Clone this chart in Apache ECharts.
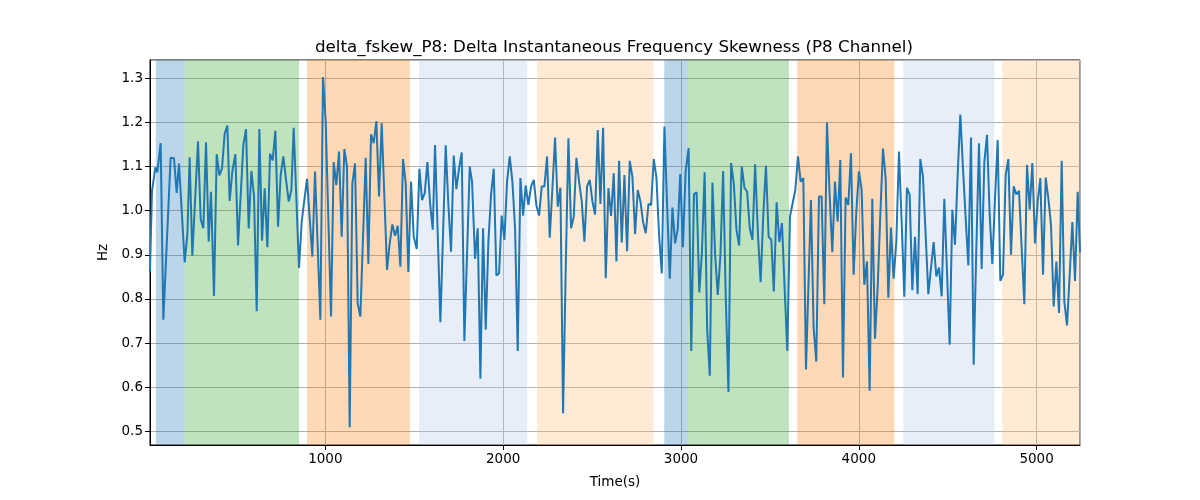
<!DOCTYPE html>
<html>
<head>
<meta charset="utf-8">
<script src="https://cdn.jsdelivr.net/npm/echarts@6/dist/echarts.min.js"></script>
<style>html,body{margin:0;padding:0;background:#fff}#c{width:1200px;height:500px}</style>
</head>
<body>
<div id="c"></div>
<script>
const times = [14,25,44,55,74,89,130,149,164,177,209,224,237,252,284,299,314,329,344,357,374,389,404,419,434,449,462,477,494,509,539,554,569,584,599,614,629,644,659,674,689,704,719,734,749,
764,779,794,809,822,852,867,897,927,942,972,987,1002,1032,1047,1062,1077,1092,1107,1122,1137,1152,1167,1182,1197,1227,1242,1257,1272,1287,1302,1317,1347,1362,1377,1392,1407,1422,1437,1452,1467,1482,1497,
1514,1529,1544,1559,1574,1589,1604,1617,1647,1677,1692,1707,1722,1737,1752,1767,1782,1812,1825,1842,1857,1872,1887,1902,1917,1932,1947,1962,1977,1992,2007,2022,2037,2052,2067,2082,2097,2112,2127,2142,2157,2172,2187,2202,2217,2232,2247,
2262,2277,2292,2307,2322,2337,2352,2367,2382,2397,2412,2427,2442,2457,2472,2487,2502,2517,2532,2547,2562,2577,2592,2607,2622,2637,2652,2667,2682,2697,2712,2727,2742,2757,2772,2787,2802,2817,2832,2847,2862,2877,2892,2907,2922,2937,2952,2967,2982,
2996,3011,3026,3043,3058,3073,3088,3103,3118,3133,3147,3162,3177,3192,3207,3222,3237,3252,3267,3282,3297,3312,3327,3342,3357,3372,3387,3402,3417,3433,3448,3463,3478,3493,3508,3522,3538,3553,3568,3583,3598,3613,3628,3643,3658,3673,3688,3703,
3731,3746,3761,3776,3791,3806,3821,3836,3851,3866,3881,3896,3911,3926,3941,3956,3971,3986,4001,4016,4031,4046,4061,4076,4091,4106,4121,4136,4151,4166,4181,4196,4211,4226,4241,4256,4271,4286,4301,4316,4331,4346,4361,4376,4391,4406,4421,4436,4451,4466,
4481,4496,4511,4526,4541,4556,4571,4586,4601,4616,4631,4646,4661,4676,4691,4706,4721,4736,4751,4766,4781,4796,4811,4826,4841,4856,4871,4886,4901,4916,4931,4946,4961,4976,4991,5006,5021,5036,5051,5066,5081,5096,5111,5126,5141,5156,5171,5186,5201,5216,5231,5244];

const values = [0.862,1.043,1.098,1.087,1.153,0.753,1.120,1.119,1.040,1.107,0.883,0.945,1.121,0.898,1.157,0.981,0.960,1.155,0.930,1.043,0.807,1.128,1.080,1.096,1.175,1.193,1.022,1.089,1.128,0.921,1.149,1.185,0.960,1.090,1.034,0.772,1.185,0.932,1.051,0.917,1.129,1.114,1.181,0.964,1.081,
1.123,1.070,1.021,1.047,1.188,0.870,0.975,1.072,0.896,1.089,0.753,1.303,1.202,0.760,1.110,1.058,1.134,0.941,1.140,1.100,0.509,1.062,1.107,0.790,0.760,1.120,0.879,1.173,1.153,1.203,1.032,1.198,0.866,0.926,0.969,0.943,0.966,0.873,1.117,1.062,0.861,1.066,0.941,
0.913,1.095,1.024,1.040,1.110,1.017,0.957,1.149,0.747,1.148,1.013,0.907,1.125,1.049,1.096,1.132,0.705,1.100,1.066,0.891,0.960,0.619,0.960,0.730,0.930,1.036,1.095,0.853,0.858,0.989,0.934,1.066,1.123,1.066,0.960,0.682,1.074,0.989,1.057,1.013,1.055,1.070,1.012,0.989,1.055,1.055,1.123,
0.939,1.051,1.166,1.009,1.052,0.541,0.870,1.164,0.960,0.987,1.120,1.066,1.021,0.930,1.055,1.070,1.021,0.991,1.183,1.015,1.188,0.847,1.051,0.988,1.085,0.885,1.113,0.928,1.081,0.908,1.113,1.077,0.947,1.047,1.021,0.974,0.949,1.015,1.013,1.117,1.075,0.945,0.858,1.191,1.013,0.846,1.007,0.926,0.960,
1.083,0.917,1.089,1.142,0.682,1.037,1.042,0.815,0.907,1.087,0.734,0.626,1.064,0.900,0.809,0.900,1.090,0.802,0.589,1.108,1.062,0.957,0.921,1.100,1.052,1.043,0.960,0.934,1.105,0.945,0.838,0.991,1.102,0.941,0.934,0.817,1.019,0.929,0.972,0.824,0.682,0.987,1.017,1.047,1.123,1.066,1.074,0.640,
1.024,0.734,0.658,1.032,1.032,0.788,1.200,1.036,0.906,1.066,0.975,1.115,0.622,1.030,1.013,1.130,0.855,0.998,1.089,1.047,0.832,0.885,0.592,1.027,0.710,0.824,0.991,1.141,1.074,0.803,0.962,0.846,0.930,1.134,0.975,0.805,1.052,1.036,0.820,0.941,0.811,1.117,1.077,0.945,0.811,0.870,0.929,0.851,0.871,0.806,
1.027,0.862,0.696,1.002,0.923,1.081,1.218,1.096,0.983,0.876,1.166,0.651,0.915,1.153,0.868,1.110,1.172,0.991,0.879,1.028,1.160,0.841,0.855,1.081,1.117,0.900,1.055,1.037,1.045,0.915,0.788,1.104,1.002,1.108,0.926,1.021,1.074,0.855,1.075,1.028,0.968,0.783,0.885,0.768,1.113,0.794,0.740,0.855,0.974,0.841,1.043,0.906];

const spanStarts = [47, 209, 897, 1527, 2191, 2906, 3039, 3654, 4250, 4807];
const spanEnds   = [209, 852, 1475, 2135, 2844, 3039, 3607, 4200, 4762, 5244];
const spanColors = ['rgba(31,119,180,0.3)','rgba(44,160,44,0.3)','rgba(255,127,14,0.3)','rgba(174,199,232,0.3)','rgba(255,187,120,0.3)',
                    'rgba(31,119,180,0.3)','rgba(44,160,44,0.3)','rgba(255,127,14,0.3)','rgba(174,199,232,0.3)','rgba(255,187,120,0.3)'];

const xTickStep = 1000;
const titleText = 'delta_fskew_P8: Delta Instantaneous Frequency Skewness (P8 Channel)';

const lineData = times.map((t, i) => [t, values[i]]);
const areas = spanStarts.map((s, i) => [{xAxis: s, itemStyle: {color: spanColors[i]}}, {xAxis: spanEnds[i]}]);

const font = 'DejaVu Sans';
const chart = echarts.init(document.getElementById('c'), null, {renderer: 'canvas'});
chart.setOption({
  animation: false,
  title: {
    text: titleText, left: 609, top: 34, textAlign: 'center',
    textStyle: {fontFamily: font, fontSize: 16.7, fontWeight: 'normal', color: '#000'}
  },
  grid: {left: 150, right: 120, top: 60, bottom: 55, show: true, borderColor: '#000', borderWidth: 1, backgroundColor: 'transparent'},
  xAxis: {
    type: 'value', min: 14, max: 5244, splitNumber: 5,
    name: 'Time(s)', nameLocation: 'middle', nameGap: 30,
    nameTextStyle: {fontFamily: font, fontSize: 13.5, color: '#000'},
    axisLine: {show: true, lineStyle: {color: '#000', width: 1}},
    axisTick: {show: true, inside: false, length: 5, lineStyle: {color: '#000'}},
    axisLabel: {fontFamily: font, fontSize: 13.5, color: '#000', margin: 7, showMinLabel: false, showMaxLabel: false,
      formatter: v => (v % xTickStep === 0 ? String(v) : '')},
    splitLine: {show: true, lineStyle: {color: '#b0b0b0', width: 1}}
  },
  yAxis: {
    type: 'value', min: 0.469, max: 1.3415, splitNumber: 9,
    name: 'Hz', nameLocation: 'middle', nameGap: 38,
    nameTextStyle: {fontFamily: font, fontSize: 13.5, color: '#000'},
    axisLine: {show: true, lineStyle: {color: '#000', width: 1}},
    axisTick: {show: true, inside: false, length: 5, lineStyle: {color: '#000'}},
    axisLabel: {fontFamily: font, fontSize: 13.5, color: '#000', margin: 7, showMinLabel: false, showMaxLabel: false,
      formatter: v => { const r = Math.round(v * 10) / 10; return Math.abs(r - v) < 1e-6 ? r.toFixed(1) : ''; }},
    splitLine: {show: true, lineStyle: {color: '#b0b0b0', width: 1}}
  },
  series: [
    {
      type: 'line', data: [], z: -1, silent: true,
      markArea: {silent: true, data: areas}
    },
    {
      type: 'line', data: lineData, showSymbol: false, symbol: 'none', z: 3,
      lineStyle: {color: '#1f77b4', width: 2}, itemStyle: {color: '#1f77b4'}
    }
  ]
});
</script>
</body>
</html>
